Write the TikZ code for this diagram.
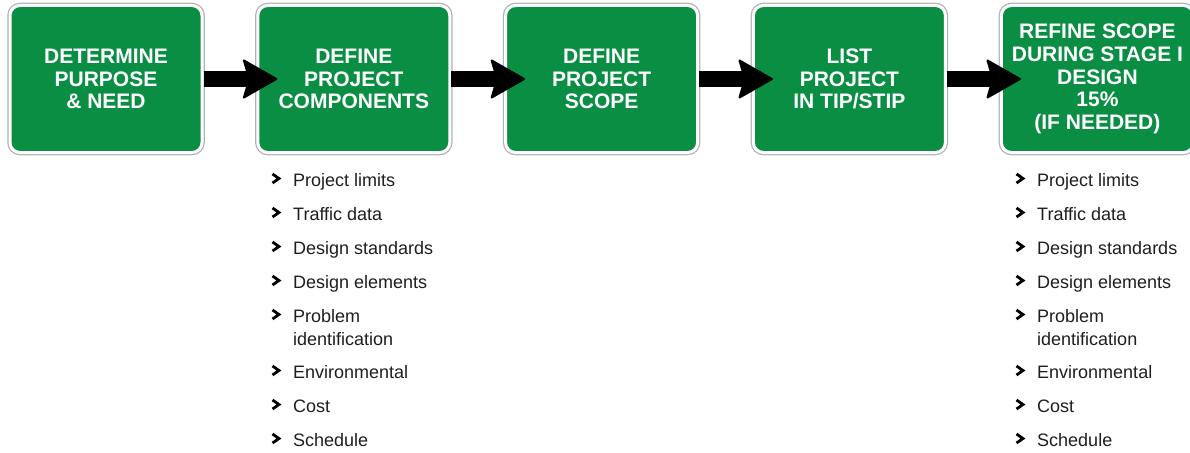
\documentclass[tikz,border=0pt]{standalone}
\usepackage{fontspec}
\setmainfont{Liberation Sans}
\usetikzlibrary{arrows.meta,calc}
\definecolor{signgreen}{RGB}{10,142,68}
\definecolor{itemtext}{RGB}{30,30,30}
\begin{document}
\begin{tikzpicture}[x=1pt,y=-1pt,
  sign/.style={fill=signgreen, draw=white, line width=3pt, rounded corners=10pt,
     preaction={draw=gray!60, line width=5.5pt},
     minimum width=192pt, minimum height=147pt, inner sep=0pt, align=center, text=white,
     font=\bfseries\fontsize{21}{22.7}\selectfont},
  flow/.style={line width=16pt, draw=black, -{Stealth[length=36pt,width=41pt,inset=6pt,line width=2pt,round]}},
  item/.style={anchor=base west, inner sep=0pt, align=left, text=itemtext, font=\fontsize{18}{23}\selectfont},
  chev/.style={line width=2.8pt, draw=black}
]
\useasboundingbox (0,0) rectangle (1190,452);
\clip (0,0) rectangle (1190,452);

\node[sign] (b1) at (106,79) {DETERMINE\\PURPOSE\\\& NEED};
\node[sign] (b2) at (353.8,79) {DEFINE\\PROJECT\\COMPONENTS};
\node[sign] (b3) at (601.6,79) {DEFINE\\PROJECT\\SCOPE};
\node[sign] (b4) at (849.4,79) {LIST\\PROJECT\\IN TIP/STIP};
\node[sign] (b5) at (1097.4,79) {REFINE SCOPE\\DURING STAGE I\\DESIGN\\15\%\\(IF NEEDED)};

\foreach \a/\b in {b1/b2,b2/b3,b3/b4,b4/b5}
  \draw[flow] (\a.east) -- ($(\b.west)+(21,0)$);

\foreach \lx/\p in {293/L,1037/R}{
  \foreach \t/\y/\cy [count=\i] in {{Project limits}/186/186,{Traffic data}/220/220,{Design standards}/254/254,{Design elements}/288/288,{Problem\\identification}/345/322,{Environmental}/378/378,{Cost}/412/412,{Schedule}/446/446}{
    \node[item] (\p\i) at (\lx,\y) {\t};
    \draw[chev] ($(\p\i.base west |- 0,\cy)+(-20.5,-12)$) -- +(6.5,4.5) -- +(0,9);
  }
}
\end{tikzpicture}
\end{document}
